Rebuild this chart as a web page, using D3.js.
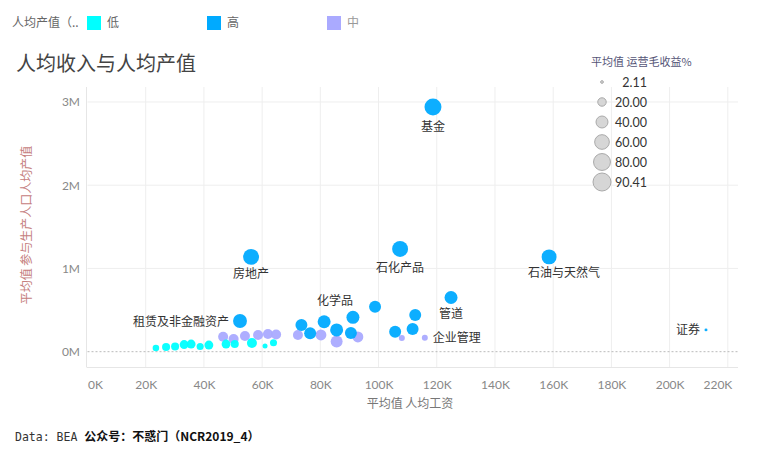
<!DOCTYPE html>
<html>
<head>
<meta charset="utf-8">
<script src="https://cdnjs.cloudflare.com/ajax/libs/d3/7.8.5/d3.min.js"></script>
<style>
    body { margin: 0; background: #fff; }
    svg { font-family: "Noto Sans CJK SC", "Noto Sans", sans-serif; }
</style>
</head>
<body>
<svg id="chart" width="771" height="463"></svg>
<script>
// sectors: name ("" = no label), average wage, output per worker, gross margin %, output level
const names = ["", "", "", "", "", "", "", "", "", "", "", "",
    "", "", "", "", "", "", "", "", "", "", "", "企业管理",
    "基金", "房地产", "石化产品", "石油与天然气", "管道", "证券", "租赁及非金融资产", "化学品",
    "", "", "", "", "", "", "", "", ""]
const wages = [23.5, 27.0, 30.1, 33.2, 35.6, 38.7, 41.7, 47.6, 50.6, 56.5, 61.0, 63.9,
    46.6, 50.2, 54.1, 58.6, 62.0, 64.8, 72.3, 80.2, 85.6, 92.9, 108.0, 115.9,
    118.7, 56.2, 107.4, 158.6, 124.9, 212.5, 52.4, 81.3,
    73.5, 76.5, 85.6, 91.2, 90.5, 98.8, 105.7, 112.6, 111.7].map(d => d * 1000)
const outputs = [0.044, 0.056, 0.062, 0.086, 0.092, 0.062, 0.080, 0.092, 0.092, 0.104, 0.068, 0.108,
    0.180, 0.153, 0.189, 0.201, 0.213, 0.207, 0.201, 0.201, 0.123, 0.177, 0.165, 0.168,
    2.94, 1.139, 1.234, 1.139, 0.651, 0.262, 0.369, 0.360,
    0.321, 0.221, 0.261, 0.413, 0.225, 0.541, 0.240, 0.441, 0.273].map(d => d * 1e6)
const margins = [12, 18, 18, 22, 22, 14, 22, 22, 18, 28, 7, 14,
    28, 28, 28, 28, 28, 28, 28, 33, 40, 33, 10, 10,
    80, 71, 71, 62, 47, 2.5, 54, 47,
    40, 40, 47, 47, 40, 40, 40, 40, 40]
const levels = ["低", "低", "低", "低", "低", "低", "低", "低", "低", "低", "低", "低",
    "中", "中", "中", "中", "中", "中", "中", "中", "中", "中", "中", "中",
    "高", "高", "高", "高", "高", "高", "高", "高",
    "高", "高", "高", "高", "高", "高", "高", "高", "高"]

const levelOrder = ["低", "高", "中"]
const levelColors = ["#00ffff", "#00aaff", "#aaaaff"]
const sizeLegend = [2.11, 20, 40, 60, 80, 90.41]
const xTicks = d3.range(0, 220001, 20000)
const yTicks = [0, 1e6, 2e6, 3e6]

// where each label sits relative to its circle
const labelPlace = {
    "基金": [0, 24, "middle"],
    "房地产": [0, 21, "middle"],
    "石化产品": [0, 23, "middle"],
    "石油与天然气": [15, 20, "middle"],
    "管道": [0, 21, "middle"],
    "证券": [-6, 4, "end"],
    "租赁及非金融资产": [-11, 5, "end"],
    "化学品": [11, -17, "middle"],
    "企业管理": [8, 4, "start"]
}

const svg = d3.select("#chart")

const x = d3.scaleLinear().domain([0, 223500]).range([87.5, 738])
const y = d3.scaleLinear().domain([-0.184e6, 3.18e6]).range([367, 87])
const r = d3.scaleSqrt().domain([0, 90.41]).range([0, 9])
const color = d3.scaleOrdinal().domain(levelOrder).range(levelColors)

const points = names.map((n, i) => ({
    name: n, wage: wages[i], output: outputs[i], margin: margins[i], level: levels[i]
}))

// top colour legend
svg.append("text").attr("x", 12).attr("y", 27)
    .attr("font-size", 12).attr("fill", "#666").text("人均产值（..")
levelOrder.forEach((l, i) => {
    svg.append("rect").attr("x", 87 + i * 120).attr("y", 16)
        .attr("width", 14).attr("height", 14).attr("fill", color(l))
    svg.append("text").attr("x", 107 + i * 120).attr("y", 27)
        .attr("font-size", 12).attr("fill", i == 2 ? "#999" : "#666").text(l)
})

// title
svg.append("text").attr("x", 16).attr("y", 71)
    .attr("font-size", 20).attr("fill", "#444").text("人均收入与人均产值")

// grid
const grid = svg.append("g")
grid.selectAll(".vg").data(xTicks.slice(1)).join("line")
    .attr("x1", d => x(d)).attr("x2", d => x(d))
    .attr("y1", 87).attr("y2", 367)
    .attr("stroke", "#eeeeee")
grid.selectAll(".hg").data(yTicks.slice(1)).join("line")
    .attr("x1", 87.5).attr("x2", 738)
    .attr("y1", d => y(d)).attr("y2", d => y(d))
    .attr("stroke", "#eeeeee")
grid.append("line").attr("x1", 87.5).attr("x2", 738)
    .attr("y1", y(0)).attr("y2", y(0))
    .attr("stroke", "#bbb").attr("stroke-dasharray", "2,2")
grid.append("line").attr("x1", 86.5).attr("x2", 86.5)
    .attr("y1", 87).attr("y2", 367).attr("stroke", "#e6e6e6")
grid.append("line").attr("x1", 86.5).attr("x2", 738)
    .attr("y1", 367.5).attr("y2", 367.5).attr("stroke", "#e6e6e6")

// axes
const xAxis = svg.append("g").attr("transform", "translate(0,367)")
    .call(d3.axisBottom(x).tickValues(xTicks).tickSize(0).tickPadding(13)
        .tickFormat(d => d / 1000 + "K"))
xAxis.select(".domain").remove()
xAxis.selectAll("text").attr("font-size", 12).attr("fill", "#888")
    .attr("font-family", "Lato, 'Noto Sans', sans-serif")
    .attr("text-anchor", (d, i) => i == 0 ? "start" : i == xTicks.length - 1 ? "end" : "middle")
    .attr("dx", (d, i) => i == xTicks.length - 1 ? 4 : 0)

const yAxis = svg.append("g").attr("transform", "translate(80,0)")
    .call(d3.axisLeft(y).tickValues(yTicks).tickSize(0).tickPadding(0)
        .tickFormat(d => d / 1e6 + "M"))
yAxis.select(".domain").remove()
yAxis.selectAll("text").attr("font-size", 12).attr("fill", "#888")
    .attr("font-family", "Lato, 'Noto Sans', sans-serif")

svg.append("text").attr("x", 410).attr("y", 408).attr("text-anchor", "middle")
    .attr("font-size", 12).attr("fill", "#777").text("平均值 人均工资")
svg.append("text").attr("transform", "translate(31,225) rotate(-90)")
    .attr("text-anchor", "middle").attr("font-size", 12).attr("fill", "#c58080")
    .text("平均值 参与生产人口人均产值")

// marks: purple under cyan under blue
const drawOrder = ["中", "低", "高"]
const sorted = points.slice().sort((a, b) => drawOrder.indexOf(a.level) - drawOrder.indexOf(b.level))
svg.append("g").selectAll("circle").data(sorted).join("circle")
    .attr("cx", d => x(d.wage)).attr("cy", d => y(d.output))
    .attr("r", d => r(d.margin))
    .attr("fill", d => color(d.level))
    .attr("fill-opacity", 0.95)

// mark labels
svg.append("g").selectAll("text").data(points.filter(d => d.name)).join("text")
    .attr("x", d => x(d.wage) + labelPlace[d.name][0])
    .attr("y", d => y(d.output) + labelPlace[d.name][1])
    .attr("text-anchor", d => labelPlace[d.name][2])
    .attr("font-size", 12).attr("fill", "#333")
    .text(d => d.name)

// size legend
svg.append("text").attr("x", 591).attr("y", 66)
    .attr("font-size", 11).attr("fill", "#557").text("平均值 运营毛收益%")
sizeLegend.forEach((v, i) => {
    svg.append("circle").attr("cx", 602).attr("cy", 82 + i * 20).attr("r", r(v))
        .attr("fill", "#d6d6d6").attr("stroke", "#aaa").attr("stroke-width", 1)
    svg.append("text").attr("x", 647).attr("y", 86.5 + i * 20).attr("text-anchor", "end")
        .attr("font-size", 12.5).attr("fill", "#333")
        .attr("font-family", "Lato, 'Noto Sans', sans-serif")
        .text(v.toFixed(2))
})

// footer
const foot = svg.append("text").attr("x", 15).attr("y", 441).attr("font-size", 11.5)
foot.append("tspan").attr("font-family", "'DejaVu Sans Mono', monospace")
    .attr("fill", "#333").text("Data: BEA ")
foot.append("tspan").attr("font-weight", "bold").attr("font-size", 12)
    .attr("fill", "#111").text("公众号：不惑门（NCR2019_4）")
</script>
</body>
</html>
